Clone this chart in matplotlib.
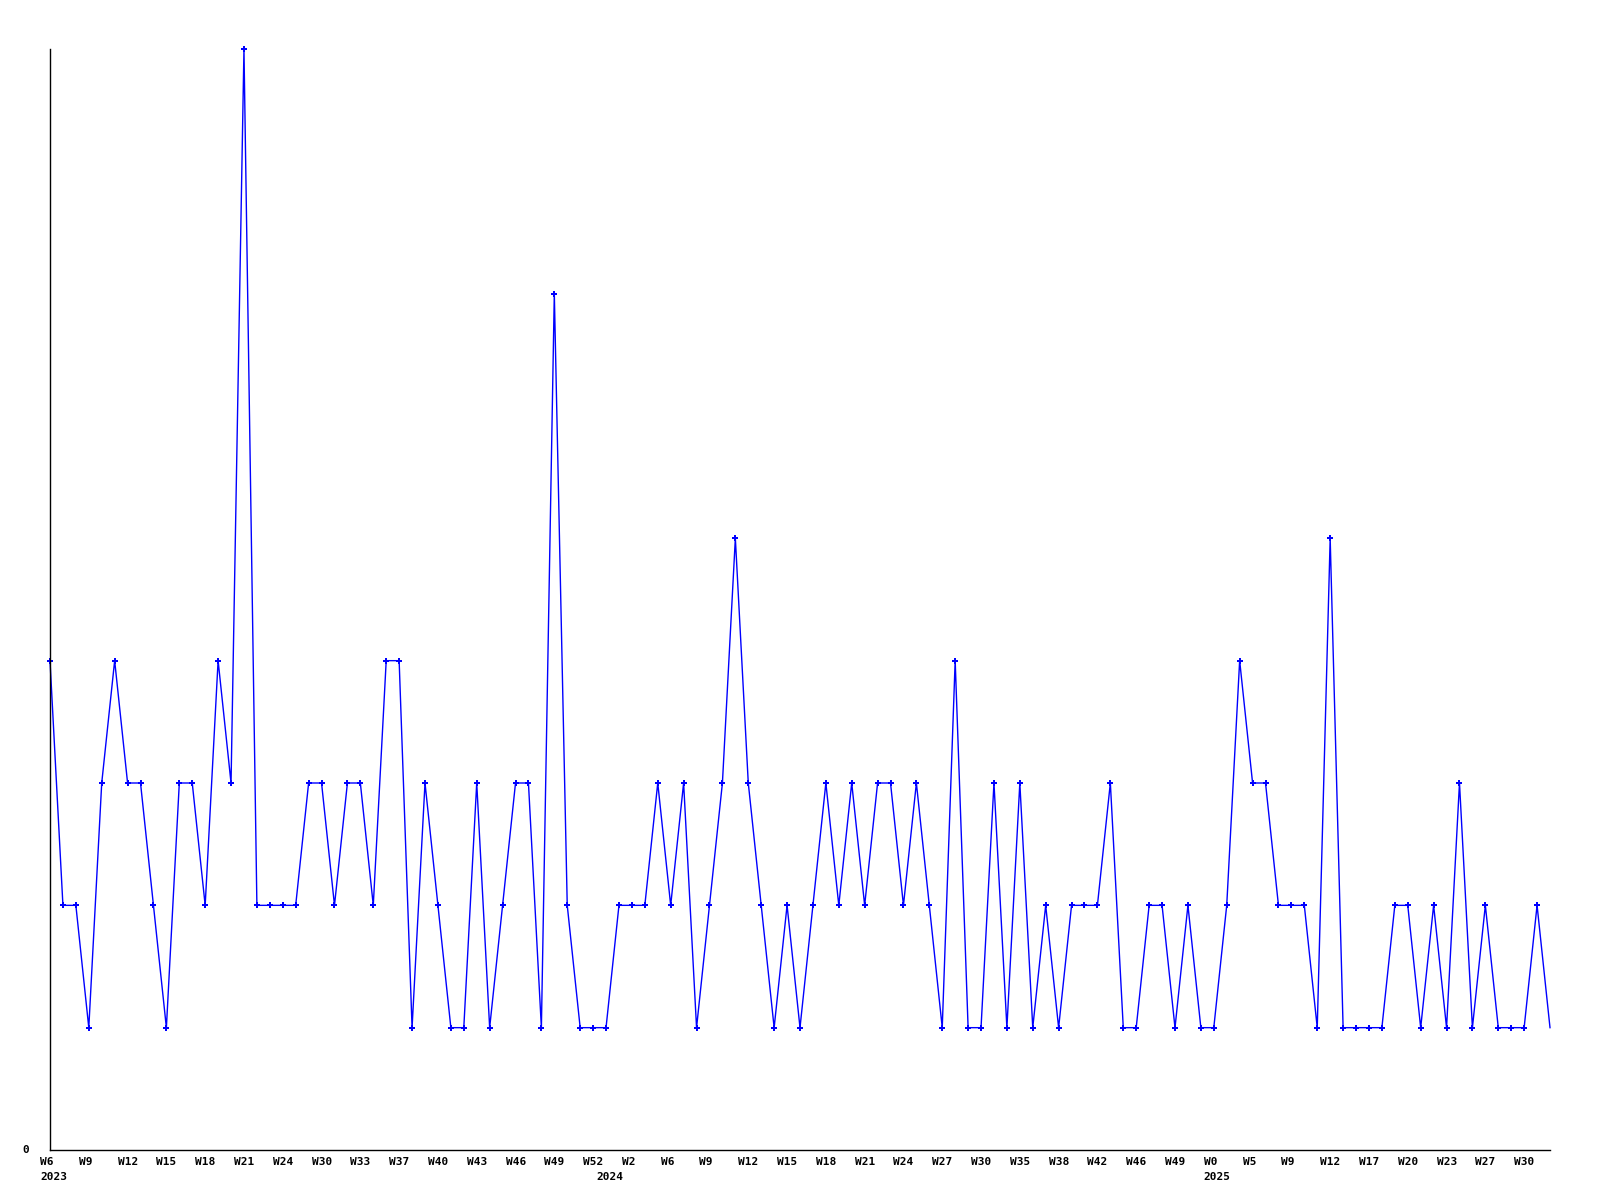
"""
Weekly counts, 2023-2025, drawn as a plain line with small markers.
"""
import matplotlib
matplotlib.use('Agg')
import matplotlib.pyplot as plt
import matplotlib.transforms as mtransforms


# one value per week (117 points)
counts = [
    4, 2, 2, 1, 3, 4, 3, 3, 2, 1,
    3, 3, 2, 4, 3, 9, 2, 2, 2, 2,
    3, 3, 2, 3, 3, 2, 4, 4, 1, 3,
    2, 1, 1, 3, 1, 2, 3, 3, 1, 7,
    2, 1, 1, 1, 2, 2, 2, 3, 2, 3,
    1, 2, 3, 5, 3, 2, 1, 2, 1, 2,
    3, 2, 3, 2, 3, 3, 2, 3, 2, 1,
    4, 1, 1, 3, 1, 3, 1, 2, 1, 2,
    2, 2, 3, 1, 1, 2, 2, 1, 2, 1,
    1, 2, 4, 3, 3, 2, 2, 2, 1, 5,
    1, 1, 1, 1, 2, 2, 1, 2, 1, 3,
    1, 2, 1, 1, 1, 2, 1,
]

# a week label on every third point
week_labels = [
    'W6', 'W9', 'W12', 'W15', 'W18', 'W21', 'W24', 'W30', 'W33', 'W37',
    'W40', 'W43', 'W46', 'W49', 'W52', 'W2', 'W6', 'W9', 'W12', 'W15',
    'W18', 'W21', 'W24', 'W27', 'W30', 'W35', 'W38', 'W42', 'W46', 'W49',
    'W0', 'W5', 'W9', 'W12', 'W17', 'W20', 'W23', 'W27', 'W30',
]
week_label_step = 3

years = ['2023', '2024', '2025']
year_index = [0, 43, 90]


def main():
    fig = plt.figure(figsize=(16, 12), dpi=100)
    ax = fig.add_axes([50 / 1600, 50 / 1200, 1500 / 1600, 1101 / 1200])

    x = list(range(len(counts)))
    ax.plot(x, counts, color='#0000ff', linewidth=1.0,
            marker='P', markersize=5, markeredgewidth=0,
            markevery=list(range(len(counts) - 1)), clip_on=False)

    ax.set_xlim(0, len(counts) - 1)
    ax.set_ylim(0, 9)

    for side in ['top', 'right']:
        ax.spines[side].set_visible(False)
    for side in ['left', 'bottom']:
        ax.spines[side].set_linewidth(1.0)
        ax.spines[side].set_color('black')

    ax.set_xticks([])
    ax.set_yticks([])

    font = dict(family='DejaVu Sans Mono', weight='bold', fontsize=8)

    # labels start 10px left of their point, below the axis
    trans = mtransforms.blended_transform_factory(ax.transData, ax.transAxes)
    trans = mtransforms.offset_copy(trans, fig=fig, x=-10, y=0, units='dots')

    for i, lab in enumerate(week_labels):
        ax.text(i * week_label_step, -12 / 1101, lab, transform=trans,
                ha='left', va='center', **font)
    for idx, yr in zip(year_index, years):
        ax.text(idx, -27 / 1101, yr, transform=trans,
                ha='left', va='center', **font)

    ax.text(-28 / 1500, 0, '0', transform=ax.transAxes,
            ha='left', va='center', **font)

    fig.savefig('out.png', dpi=100, facecolor='white')


if __name__ == '__main__':
    main()
